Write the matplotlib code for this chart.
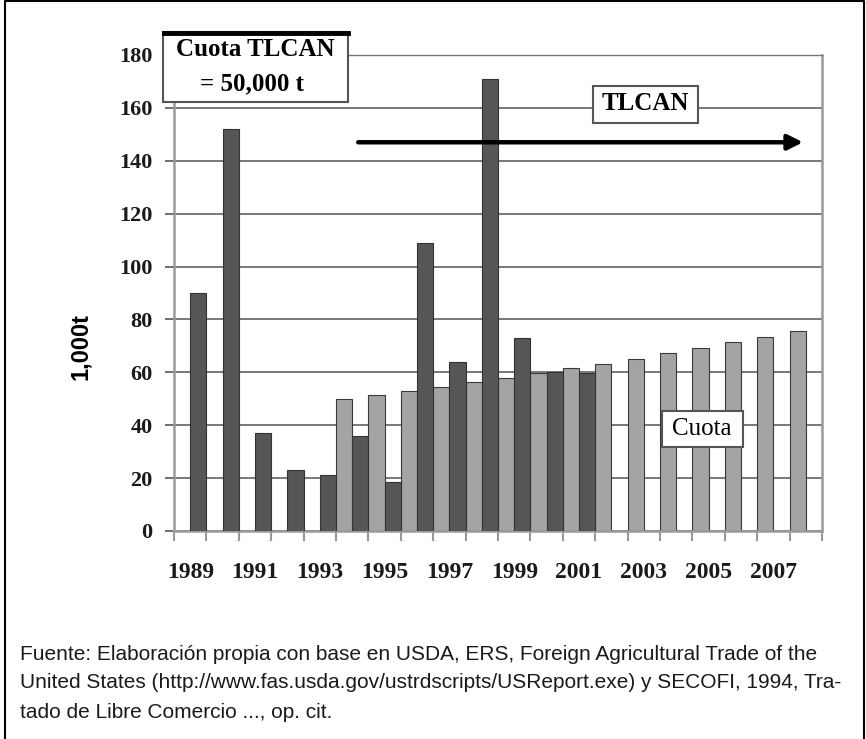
import matplotlib
matplotlib.use('Agg')
import matplotlib.pyplot as plt
from matplotlib.patches import Rectangle
from matplotlib.lines import Line2D

years = list(range(1989, 2009))
# imports (dark bars), 1989-2001
import_years = list(range(1989, 2002))
imports = [90, 152, 37, 23, 21, 36, 18.5, 109, 64, 171, 73, 60, 59.6]
# TLCAN quota (light bars), 1994-2008
quota_years = list(range(1994, 2009))
quota = [50, 51.5, 53, 54.6, 56.3, 58, 59.7, 61.5, 63.3, 65.2, 67.2, 69.2, 71.3, 73.4, 75.6]
tick_years = list(range(1989, 2009, 2))
footnote = ["Fuente: Elaboración propia con base en USDA, ERS, Foreign Agricultural Trade of the",
            "United States (http://www.fas.usda.gov/ustrdscripts/USReport.exe) y SECOFI, 1994, Tra-",
            "tado de Libre Comercio ..., op. cit."]

W, H = 866, 739
SERIF = 'Liberation Serif'
SANS = ['Liberation Sans Narrow', 'Liberation Sans', 'DejaVu Sans']

def fx(x):
    return x / W

def fy(y):
    return 1 - y / H

fig = plt.figure(figsize=(W / 100, H / 100), dpi=100)
ax = fig.add_axes([fx(174), fy(531), fx(822) - fx(174), fy(55) - fy(531)])

idx = {y: i for i, y in enumerate(years)}
xi = [idx[y] + 0.25 for y in import_years]
xq = [idx[y] - 0.25 for y in quota_years]
ax.bar(xq, quota, width=0.5, color='#a4a4a4', edgecolor='#3a3a3a', linewidth=0.8, zorder=2)
ax.bar(xi, imports, width=0.5, color='#565656', edgecolor='#333333', linewidth=0.8, zorder=3)

ax.set_xlim(-0.5, len(years) - 0.5)
ax.set_ylim(0, 180)
ax.set_yticks(range(0, 181, 20))
ax.yaxis.grid(True, color='#555555', linewidth=1.1)
ax.set_axisbelow(True)

# ticks on category boundaries, labels every other year on centres
ax.set_xticks([i - 0.5 for i in range(len(years) + 1)])
ax.set_xticklabels([])
ax.set_xticks([idx[y] for y in tick_years], minor=True)
ax.set_xticklabels([str(y) for y in tick_years], minor=True)
ax.tick_params(axis='x', which='major', length=7, width=1.5, color='#999999', direction='out')
ax.tick_params(axis='x', which='minor', length=0, pad=22)
ax.tick_params(axis='y', length=6.5, width=1.2, color='#555555', pad=9)
for lab in ax.get_xticklabels(minor=True) + ax.get_yticklabels():
    lab.set_fontfamily(SERIF)
    lab.set_fontweight('bold')
    lab.set_color('#1a1a1a')
for lab in ax.get_xticklabels(minor=True):
    lab.set_fontsize(17)
for lab in ax.get_yticklabels():
    lab.set_fontsize(16)

for side in ['left', 'right', 'bottom']:
    ax.spines[side].set_color('#9a9a9a')
    ax.spines[side].set_linewidth(1.8)
ax.spines['top'].set_color('#777777')
ax.spines['top'].set_linewidth(1.0)

fig.text(fx(80), fy(347), '1,000t', rotation=90, ha='center', va='center',
         fontfamily='Liberation Sans', fontweight='bold', fontsize=17)

# TLCAN arrow
ax.annotate('', xy=(19.0, 147), xytext=(5.1, 147),
            arrowprops=dict(arrowstyle='-|>,head_length=0.9,head_width=0.45', color='black', lw=3.2),
            zorder=5)

def box(x0, y0, x1, y1, lw=1.5):
    fig.add_artist(Rectangle((fx(x0), fy(y1)), fx(x1) - fx(x0), fy(y0) - fy(y1),
                             transform=fig.transFigure, facecolor='white',
                             edgecolor='#555555', linewidth=lw, zorder=10))

box(163, 32, 348, 102)
fig.add_artist(Line2D([fx(164), fx(348)], [fy(33), fy(33)], transform=fig.transFigure,
                      color='black', linewidth=3.5, zorder=11))
fig.text(fx(255), fy(50), 'Cuota TLCAN', ha='center', va='center', fontfamily=SERIF,
         fontweight='bold', fontsize=18, zorder=12)
fig.text(fx(252), fy(84), '= 50,000 t', ha='center', va='center', fontfamily=SERIF,
         fontweight='bold', fontsize=18, zorder=12)

box(593, 86, 698, 123)
fig.text(fx(645), fy(104), 'TLCAN', ha='center', va='center', fontfamily=SERIF,
         fontweight='bold', fontsize=18, zorder=12)

box(662, 411, 743, 447)
fig.text(fx(702), fy(429), 'Cuota', ha='center', va='center', fontfamily=SERIF,
         fontsize=18, zorder=12)

for i, line in enumerate(footnote):
    fig.text(fx(20), fy(654 + 29 * i), line, ha='left', va='center',
             family=SANS, fontsize=15, color='#1a1a1a')

# outer frame (left, top, right)
fig.add_artist(Line2D([fx(5), fx(5), fx(864), fx(864)], [fy(739), fy(1), fy(1), fy(739)],
                      transform=fig.transFigure, color='black', linewidth=1.5))

fig.savefig('out.png', dpi=100)
